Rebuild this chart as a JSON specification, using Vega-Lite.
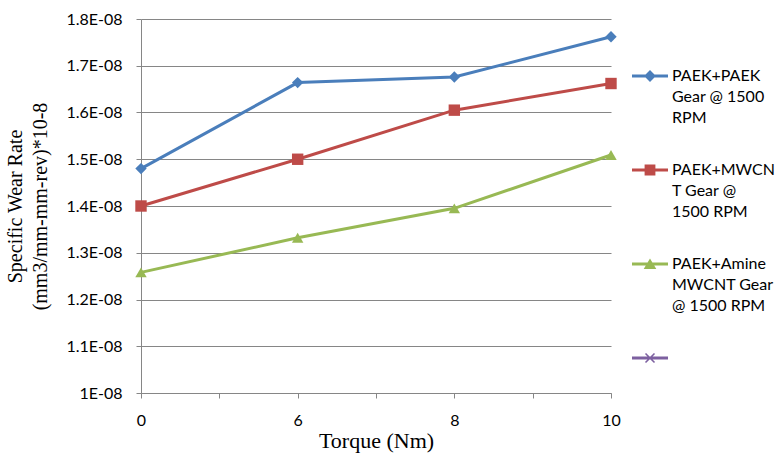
{
  "$schema": "https://vega.github.io/schema/vega-lite/v6.json",
  "width": 470,
  "height": 374,
  "autosize": {"type": "none"},
  "padding": {"left": 141, "top": 19, "right": 169, "bottom": 61},
  "background": "white",
  "config": {
    "view": {"stroke": null},
    "font": "Lato",
    "axis": {
      "labelFont": "Lato",
      "labelFontSize": 16,
      "labelColor": "black",
      "domainColor": "#868686",
      "tickColor": "#868686",
      "gridColor": "#868686",
      "titleFont": "Liberation Serif",
      "titleFontWeight": "normal",
      "titleColor": "black"
    }
  },
  "encoding": {
    "x": {
      "field": "torque",
      "type": "ordinal",
      "scale": {"type": "point", "domain": ["0", "a", "6", "b", "8", "c", "10"], "padding": 0},
      "axis": {
        "title": "Torque (Nm)",
        "titleFontSize": 22,
        "labelExpr": "(datum.label=='a'||datum.label=='b'||datum.label=='c') ? '' : datum.label",
        "labelAngle": 0,
        "grid": false,
        "tickSize": 5,
        "labelPadding": 14,
        "titlePadding": 2
      }
    },
    "y": {
      "field": "rate",
      "type": "quantitative",
      "scale": {"domain": [1e-8, 1.8e-8], "nice": false, "zero": false},
      "axis": {
        "values": [1e-8, 1.1e-8, 1.2e-8, 1.3e-8, 1.4e-8, 1.5e-8, 1.6e-8, 1.7e-8, 1.8e-8],
        "labelExpr": "format(datum.value*1e8,'.1~f')+'E-08'",
        "title": ["Specific Wear Rate", "(mm3/mm-mm-rev)*10-8"],
        "titleFontSize": 20,
        "titleLineHeight": 25,
        "grid": true,
        "tickSize": 5,
        "labelPadding": 14,
        "titlePadding": 15
      }
    }
  },
  "layer": [
    {
      "data": {
        "values": [
          {"torque": "0", "series": "PAEK+PAEK Gear @ 1500 RPM", "rate": 1.48e-8},
          {"torque": "6", "series": "PAEK+PAEK Gear @ 1500 RPM", "rate": 1.664e-8},
          {"torque": "8", "series": "PAEK+PAEK Gear @ 1500 RPM", "rate": 1.676e-8},
          {"torque": "10", "series": "PAEK+PAEK Gear @ 1500 RPM", "rate": 1.762e-8},
          {"torque": "0", "series": "PAEK+MWCNT Gear @ 1500 RPM", "rate": 1.40e-8},
          {"torque": "6", "series": "PAEK+MWCNT Gear @ 1500 RPM", "rate": 1.50e-8},
          {"torque": "8", "series": "PAEK+MWCNT Gear @ 1500 RPM", "rate": 1.605e-8},
          {"torque": "10", "series": "PAEK+MWCNT Gear @ 1500 RPM", "rate": 1.662e-8},
          {"torque": "0", "series": "PAEK+Amine MWCNT Gear @ 1500 RPM", "rate": 1.258e-8},
          {"torque": "6", "series": "PAEK+Amine MWCNT Gear @ 1500 RPM", "rate": 1.332e-8},
          {"torque": "8", "series": "PAEK+Amine MWCNT Gear @ 1500 RPM", "rate": 1.395e-8},
          {"torque": "10", "series": "PAEK+Amine MWCNT Gear @ 1500 RPM", "rate": 1.509e-8}
        ]
      },
      "encoding": {
        "color": {
          "field": "series",
          "type": "nominal",
          "scale": {
            "domain": ["PAEK+PAEK Gear @ 1500 RPM", "PAEK+MWCNT Gear @ 1500 RPM", "PAEK+Amine MWCNT Gear @ 1500 RPM", "Series4"],
            "range": ["#4A7EBB", "#BE4B48", "#98B954", "#7D60A0"]
          },
          "legend": null
        }
      },
      "layer": [
        {"mark": {"type": "line", "strokeWidth": 3}},
        {
          "mark": {"type": "point", "filled": true, "size": 130, "opacity": 1},
          "encoding": {
            "shape": {
              "field": "series",
              "type": "nominal",
              "scale": {
                "domain": ["PAEK+PAEK Gear @ 1500 RPM", "PAEK+MWCNT Gear @ 1500 RPM", "PAEK+Amine MWCNT Gear @ 1500 RPM", "Series4"],
                "range": ["diamond", "square", "triangle-up", "cross"]
              },
              "legend": null
            }
          }
        }
      ]
    },
    {
      "data": {
        "values": [
          {"series": "PAEK+PAEK Gear @ 1500 RPM"},
          {"series": "PAEK+MWCNT Gear @ 1500 RPM"},
          {"series": "PAEK+Amine MWCNT Gear @ 1500 RPM"},
          {"series": "Series4"}
        ]
      },
      "mark": {"type": "point", "filled": true, "size": 1296, "opacity": 1},
      "encoding": {
        "color": {
          "field": "series",
          "type": "nominal",
          "scale": {
            "domain": ["PAEK+PAEK Gear @ 1500 RPM", "PAEK+MWCNT Gear @ 1500 RPM", "PAEK+Amine MWCNT Gear @ 1500 RPM", "Series4"],
            "range": ["#4A7EBB", "#BE4B48", "#98B954", "#7D60A0"]
          },
          "legend": {
            "title": null,
            "orient": "none",
            "legendX": 491,
            "legendY": 39,
            "padding": 0,
            "labelFont": "Lato",
            "labelFontSize": 16,
            "labelColor": "black",
            "labelLimit": 200,
            "labelOffset": 4,
            "rowPadding": 26,
            "symbolSize": 1296,
            "symbolStrokeWidth": 0,
            "labelExpr": "datum.label=='PAEK+PAEK Gear @ 1500 RPM' ? ['PAEK+PAEK','Gear @ 1500','RPM'] : datum.label=='PAEK+MWCNT Gear @ 1500 RPM' ? ['PAEK+MWCN','T Gear @','1500 RPM'] : datum.label=='PAEK+Amine MWCNT Gear @ 1500 RPM' ? ['PAEK+Amine','MWCNT Gear','@ 1500 RPM'] : ''",
            "encoding": {"labels": {"lineHeight": {"value": 21}}}
          }
        },
        "shape": {
          "field": "series",
          "type": "nominal",
          "scale": {
            "domain": ["PAEK+PAEK Gear @ 1500 RPM", "PAEK+MWCNT Gear @ 1500 RPM", "PAEK+Amine MWCNT Gear @ 1500 RPM", "Series4"],
            "range": [
              "M-1,-0.08H1V0.08H-1Z M0,-0.33L0.33,0L0,0.33L-0.33,0Z",
              "M-1,-0.08H1V0.08H-1Z M-0.3,-0.3H0.3V0.3H-0.3Z",
              "M-1,-0.08H1V0.08H-1Z M0,-0.3L0.35,0.28H-0.35Z",
              "M-1,-0.08H1V0.08H-1Z M-0.28,-0.22L-0.22,-0.28L0.28,0.22L0.22,0.28Z M0.22,-0.28L0.28,-0.22L-0.22,0.28L-0.28,0.22Z"
            ]
          },
          "legend": {
            "title": null,
            "orient": "none",
            "legendX": 491,
            "legendY": 39,
            "padding": 0,
            "labelFont": "Lato",
            "labelFontSize": 16,
            "labelColor": "black",
            "labelLimit": 200,
            "labelOffset": 4,
            "rowPadding": 26,
            "symbolSize": 1296,
            "symbolStrokeWidth": 0,
            "labelExpr": "datum.label=='PAEK+PAEK Gear @ 1500 RPM' ? ['PAEK+PAEK','Gear @ 1500','RPM'] : datum.label=='PAEK+MWCNT Gear @ 1500 RPM' ? ['PAEK+MWCN','T Gear @','1500 RPM'] : datum.label=='PAEK+Amine MWCNT Gear @ 1500 RPM' ? ['PAEK+Amine','MWCNT Gear','@ 1500 RPM'] : ''",
            "encoding": {"labels": {"lineHeight": {"value": 21}}}
          }
        }
      }
    }
  ],
  "resolve": {"scale": {"shape": "independent", "color": "independent"}}
}
